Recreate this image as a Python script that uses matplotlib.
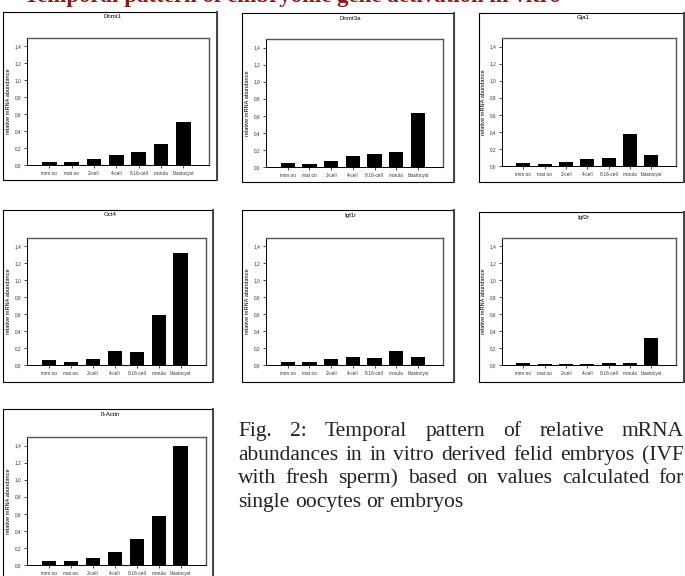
import matplotlib
matplotlib.use("Agg")
import matplotlib.pyplot as plt
from matplotlib.patches import Rectangle

W, H = 685, 576

stages = ["imm oo", "mat oo", "2-cell", "4-cell", "8-16-cell", "morula", "blastocyst"]

dnmt1 = [0.04, 0.035, 0.065, 0.115, 0.155, 0.245, 0.505]
dnmt3a = [0.045, 0.035, 0.075, 0.125, 0.155, 0.18, 0.635]
gja1 = [0.035, 0.025, 0.045, 0.085, 0.095, 0.38, 0.13]
oct4 = [0.055, 0.035, 0.075, 0.16, 0.15, 0.595, 1.325]
igf1r = [0.04, 0.03, 0.065, 0.1, 0.085, 0.16, 0.09]
igf2r = [0.02, 0.015, 0.015, 0.01, 0.025, 0.025, 0.315]
bactin = [0.05, 0.045, 0.085, 0.155, 0.305, 0.575, 1.395]

genes = ["Dnmt1", "Dnmt3a", "Gja1", "Oct4", "Igf1r", "Igf2r", "ß-Actin"]
values = [dnmt1, dnmt3a, gja1, oct4, igf1r, igf2r, bactin]

yticks = [0.0, 0.2, 0.4, 0.6, 0.8, 1.0, 1.2, 1.4]
ytick_labels = ["0,0", "0,2", "0,4", "0,6", "0,8", "1,0", "1,2", "1,4"]

caption = [
    "Fig. 2: Temporal pattern of relative mRNA",
    "abundances in in vitro derived felid embryos (IVF",
    "with fresh sperm) based on values calculated for",
    "single oocytes or embryos",
]

# panel frames in pixels: outer box, inner plot area
layout = [
    ((3, 12, 217, 180), (27, 38, 209, 165)),
    ((242, 13, 454, 182), (266, 39, 443, 167)),
    ((479, 13, 684, 182), (502, 38, 676, 166)),
    ((3, 210, 213, 382), (27, 238, 206, 365)),
    ((242, 210, 454, 382), (266, 238, 443, 365)),
    ((479, 212, 684, 382), (502, 238, 676, 365)),
    ((3, 409, 213, 578), (27, 437, 206, 565)),
]


def fx(x):
    return x / W


def fy(y):
    return 1 - y / H


fig = plt.figure(figsize=(W / 100, H / 100), dpi=100)
fig.patch.set_facecolor("white")

sans = "Liberation Sans"

for gene, vals, (outer, inner) in zip(genes, values, layout):
    ox0, oy0, ox1, oy1 = outer
    fig.patches.append(Rectangle((fx(ox0), fy(oy1)), fx(ox1 - ox0), (oy1 - oy0) / H,
                                 transform=fig.transFigure, fill=False,
                                 edgecolor="black", linewidth=0.8))
    fig.lines.append(plt.Line2D([fx(ox1), fx(ox1)], [fy(oy1), fy(oy0)],
                                transform=fig.transFigure, color="#444444", linewidth=1.4))

    ix0, iy0, ix1, iy1 = inner
    ax = fig.add_axes([fx(ix0), fy(iy1), fx(ix1 - ix0), (iy1 - iy0) / H])
    ax.bar(range(len(stages)), vals, width=0.66, color="black")
    ax.set_xlim(-1.0, 7.15)
    ax.set_ylim(0, 1.5)
    ax.set_yticks(yticks)
    ax.set_yticklabels(ytick_labels, fontsize=3.4, family=sans, color="#333333")
    ax.set_xticks(range(len(stages)))
    ax.set_xticklabels(stages, fontsize=3.4, family=sans, color="#333333")
    ax.tick_params(length=2, width=0.5, pad=2)
    for side in ["left", "bottom"]:
        ax.spines[side].set_linewidth(0.7)
    for side in ["top", "right"]:
        ax.spines[side].set_linewidth(1.0)
        ax.spines[side].set_color("#555555")
    ax.set_ylabel("relative mRNA abundance", fontsize=4.1, family=sans, labelpad=3)

    fig.text(fx((ox0 + ox1) / 2 + 2), fy(oy0 + 5), gene, fontsize=4.4, family=sans,
             ha="center", va="center")

# heading of the page, cut off at the top edge as in the scan
fig.text(fx(24), fy(2), "Temporal pattern of embryonic gene activation in vitro",
         fontsize=16.5, family="Liberation Serif", weight="bold", color="#8b1a1a",
         ha="left", va="baseline")

# justified caption
renderer = fig.canvas.get_renderer()
left, right = 238, 684
baselines = [436, 460, 483, 507]
for i, (line, base) in enumerate(zip(caption, baselines)):
    words = line.split(" ")
    texts = [fig.text(0, fy(base), w, fontsize=15.5, family="Liberation Serif",
                      color="#222222", ha="left", va="baseline") for w in words]
    widths = [t.get_window_extent(renderer).width for t in texts]
    if i < len(caption) - 1:
        gap = (right - left - sum(widths)) / (len(words) - 1)
    else:
        gap = texts[0].get_fontsize() * 100 / 72 * 0.25
    x = left
    for t, w in zip(texts, widths):
        t.set_x(fx(x))
        x += w + gap

fig.savefig("out.png", dpi=100)
